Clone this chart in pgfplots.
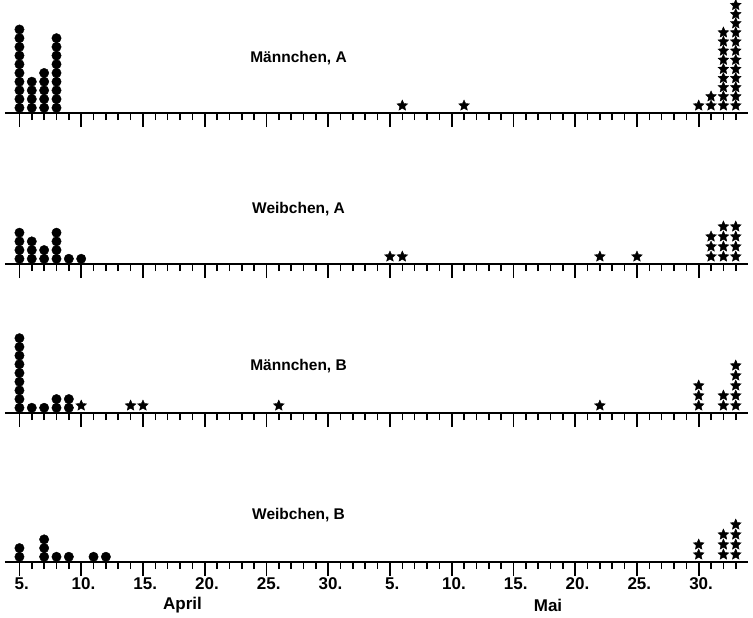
\documentclass[border=0pt]{standalone}
\usepackage{pgfplots}
\pgfplotsset{compat=1.18}
\usepackage{fontspec}
\setmainfont{Liberation Sans}
\pgfdeclareplotmark{fstar}{%
  \pgfpathmoveto{\pgfpointpolar{90}{1\pgfplotmarksize}}%
  \pgfpathlineto{\pgfpointpolar{126}{0.47\pgfplotmarksize}}%
  \pgfpathlineto{\pgfpointpolar{162}{1\pgfplotmarksize}}%
  \pgfpathlineto{\pgfpointpolar{198}{0.47\pgfplotmarksize}}%
  \pgfpathlineto{\pgfpointpolar{234}{1\pgfplotmarksize}}%
  \pgfpathlineto{\pgfpointpolar{270}{0.47\pgfplotmarksize}}%
  \pgfpathlineto{\pgfpointpolar{306}{1\pgfplotmarksize}}%
  \pgfpathlineto{\pgfpointpolar{342}{0.47\pgfplotmarksize}}%
  \pgfpathlineto{\pgfpointpolar{18}{1\pgfplotmarksize}}%
  \pgfpathlineto{\pgfpointpolar{54}{0.47\pgfplotmarksize}}%
  \pgfpathclose
  \pgfusepathqfillstroke
}
\tikzset{ttl/.style={font=\fontsize{15.5}{18}\selectfont\bfseries}}
\pgfplotsset{
  panel/.style={
    anchor=south west,
    scale only axis,
    x=12.35pt, y=8.7pt,
    xmin=-1.17, xmax=59, ymin=0, ymax=13,
    clip=false,
    axis x line=bottom,
    axis y line=none,
    axis line style={-, line width=2.2pt},
    xtick={0,5,...,55},
    minor xtick={1,...,58},
    tick align=outside,
    major tick length=14pt,
    minor tick length=7pt,
    every tick/.style={line width=1.6pt, black},
    xticklabels={},
  },
  dots/.style={only marks, mark=*, mark size=4.7pt, black, mark options={fill=black}},
  stars/.style={only marks, mark=fstar, mark size=5.6pt, black, mark options={fill=black, line width=0.4pt}},
}
\begin{document}
\begin{tikzpicture}
\useasboundingbox (0,0) rectangle (753pt,-618pt);
% Maennchen A
\begin{axis}[panel, at={(5pt,-113pt)}]
\addplot[dots] coordinates {
 (0,0.6)(0,1.6)(0,2.6)(0,3.6)(0,4.6)(0,5.6)(0,6.6)(0,7.6)(0,8.6)(0,9.6)
 (1,0.6)(1,1.6)(1,2.6)(1,3.6)
 (2,0.6)(2,1.6)(2,2.6)(2,3.6)(2,4.6)
 (3,0.6)(3,1.6)(3,2.6)(3,3.6)(3,4.6)(3,5.6)(3,6.6)(3,7.6)(3,8.6)
};
\addplot[stars] coordinates {
 (31,0.85)(36,0.85)(55,0.85)
 (56,0.85)(56,1.9)
 (57,0.85)(57,1.9)(57,2.95)(57,4.0)(57,5.05)(57,6.1)(57,7.15)(57,8.2)(57,9.25)
 (58,0.85)(58,1.9)(58,2.95)(58,4.0)(58,5.05)(58,6.1)(58,7.15)(58,8.2)(58,9.25)(58,10.3)(58,11.35)(58,12.4)
};
\node[ttl] at (axis cs:22.6,6.3) {Männchen, A};
\end{axis}
% Weibchen A
\begin{axis}[panel, at={(5pt,-264pt)}]
\addplot[dots] coordinates {
 (0,0.6)(0,1.6)(0,2.6)(0,3.6)
 (1,0.6)(1,1.6)(1,2.6)
 (2,0.6)(2,1.6)
 (3,0.6)(3,1.6)(3,2.6)(3,3.6)
 (4,0.6)
 (5,0.6)
};
\addplot[stars] coordinates {
 (30,0.85)(31,0.85)(47,0.85)(50,0.85)
 (56,0.85)(56,2.0)(56,3.15)
 (57,0.85)(57,2.0)(57,3.15)(57,4.3)
 (58,0.85)(58,2.0)(58,3.15)(58,4.3)
};
\node[ttl] at (axis cs:22.6,6.3) {Weibchen, A};
\end{axis}
% Maennchen B
\begin{axis}[panel, at={(5pt,-413pt)}]
\addplot[dots] coordinates {
 (0,0.6)(0,1.6)(0,2.6)(0,3.6)(0,4.6)(0,5.6)(0,6.6)(0,7.6)(0,8.6)
 (1,0.6)
 (2,0.6)
 (3,0.6)(3,1.6)
 (4,0.6)(4,1.6)
};
\addplot[stars] coordinates {
 (5,0.85)(9,0.85)(10,0.85)(21,0.85)(47,0.85)
 (55,0.85)(55,2.0)(55,3.15)
 (57,0.85)(57,2.0)
 (58,0.85)(58,2.0)(58,3.15)(58,4.3)(58,5.45)
};
\node[ttl] at (axis cs:22.6,5.4) {Männchen, B};
\end{axis}
% Weibchen B
\begin{axis}[panel, at={(5pt,-562pt)},
  xticklabels={5\rlap{.},10\rlap{.},15\rlap{.},20\rlap{.},25\rlap{.},30\rlap{.},5\rlap{.},10\rlap{.},15\rlap{.},20\rlap{.},25\rlap{.},30\rlap{.}},
  xticklabel style={font=\fontsize{17}{20}\selectfont\bfseries, yshift=2pt}]
\addplot[dots] coordinates {
 (0,0.6)(0,1.6)
 (2,0.6)(2,1.6)(2,2.6)
 (3,0.6)
 (4,0.6)
 (6,0.6)
 (7,0.6)
};
\addplot[stars] coordinates {
 (55,0.85)(55,2.0)
 (57,0.85)(57,2.0)(57,3.15)
 (58,0.85)(58,2.0)(58,3.15)(58,4.3)
};
\node[ttl] at (axis cs:22.6,5.4) {Weibchen, B};
\node[font=\fontsize{17}{20}\selectfont\bfseries, yshift=-43pt] at (axis cs:13.2,0) {April};
\node[font=\fontsize{17}{20}\selectfont\bfseries, yshift=-43pt] at (axis cs:42.8,0) {Mai};
\end{axis}
\end{tikzpicture}
\end{document}
